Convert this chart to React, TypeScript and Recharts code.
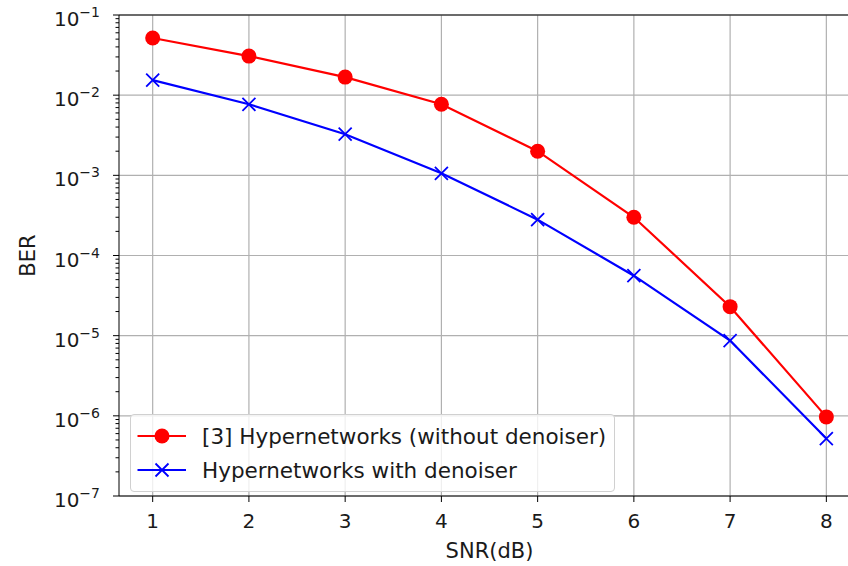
import React from 'react';
import { LineChart, Line, XAxis, YAxis, ReferenceLine, Legend, Label } from 'recharts';

const snr = [1, 2, 3, 4, 5, 6, 7, 8];
const berBaseline = [0.0516, 0.0307, 0.0168, 0.0077, 0.002, 0.0003, 2.3e-5, 9.7e-7];
const berDenoiser = [0.0154, 0.0077, 0.00326, 0.00106, 2.8e-4, 5.6e-5, 8.7e-6, 5.2e-7];

const baselineName = '[3] Hypernetworks (without denoiser)';
const denoiserName = 'Hypernetworks with denoiser';

const decades = [-7, -6, -5, -4, -3, -2, -1];
const majorTicks = decades.map((d) => Math.pow(10, d));
const minorSteps = [2, 3, 4, 5, 6, 7, 8, 9];
const yTicks = [
    ...majorTicks,
    ...decades.slice(0, -1).flatMap((d) => minorSteps.map((m) => m * Math.pow(10, d))),
];

const data = snr.map((s, i) => ({
    snr: s,
    baseline: berBaseline[i],
    denoiser: berDenoiser[i],
}));

const FONT = "'DejaVu Sans', sans-serif";
const TEXT = '#1a1a1a';
const FS = 20;
const GRID = '#b0b0b0';

const isMajor = (v: number) => {
    const l = Math.log10(v);
    return Math.abs(l - Math.round(l)) < 1e-6;
};

const YTick = (props: any) => {
    const { x, y, payload } = props;
    const v = payload.value;
    if (!isMajor(v)) {
        return <line x1={x - 3.5} x2={x} y1={y} y2={y} stroke="#000" strokeWidth={1} />;
    }
    const exp = Math.round(Math.log10(v));
    return (
        <g>
            <line x1={x - 6} x2={x} y1={y} y2={y} stroke="#000" strokeWidth={1} />
            <text x={x - 19} y={y + 11} textAnchor="end" fontFamily={FONT} fill={TEXT}>
                <tspan fontSize={FS}>10</tspan>
                <tspan fontSize={14} dy={-9}>{'\u2212' + Math.abs(exp)}</tspan>
            </text>
        </g>
    );
};

const Cross = (props: any) => {
    const { cx, cy } = props;
    if (cx == null || cy == null) return null;
    const s = 6.5;
    return (
        <path
            d={`M${cx - s},${cy - s}L${cx + s},${cy + s}M${cx - s},${cy + s}L${cx + s},${cy - s}`}
            stroke="#0000ff"
            strokeWidth={1.8}
            fill="none"
        />
    );
};

const LegendBox = (props: any) => {
    const { payload } = props;
    const items = [...(payload || [])].sort((a: any, b: any) => (a.dataKey > b.dataKey ? 1 : -1));
    return (
        <div
            style={{
                background: 'rgba(255,255,255,0.8)',
                border: '1px solid #d0d0d0',
                borderRadius: 4,
                padding: '4px 8px 4px 6px',
                fontFamily: FONT,
                fontSize: 21.5,
                color: TEXT,
                textAlign: 'left',
                whiteSpace: 'nowrap',
            }}
        >
            {items.map((entry: any) => {
                const isBase = entry.dataKey === 'baseline';
                return (
                    <div key={entry.dataKey} style={{ display: 'flex', alignItems: 'center', height: 34 }}>
                        <svg width={65} height={20} style={{ flex: 'none' }}>
                            <line x1={0.5} x2={49} y1={10} y2={10} stroke={entry.color} strokeWidth={2.2} />
                            {isBase ? (
                                <circle cx={25} cy={10} r={7.5} fill="#ff0000" />
                            ) : (
                                <path d="M18.5,3.5L31.5,16.5M18.5,16.5L31.5,3.5" stroke="#0000ff" strokeWidth={1.8} />
                            )}
                        </svg>
                        <span>{entry.value}</span>
                    </div>
                );
            })}
        </div>
    );
};

// the original axes run past the right edge of the picture, so the x domain stops at the crop
const App = () => {
    return (
        <div style={{ position: 'absolute', left: 0, top: 0, width: 848, height: 566, background: '#fff' }}>
            <LineChart
                width={848}
                height={566}
                data={data}
                margin={{ top: 15, right: 0, left: 9, bottom: 8 }}
            >
                {snr.map((s) => (
                    <ReferenceLine key={'x' + s} x={s} stroke={GRID} strokeWidth={1.2} />
                ))}
                {majorTicks.map((t) => (
                    <ReferenceLine key={'y' + t} y={t} stroke={GRID} strokeWidth={1.2} />
                ))}
                <ReferenceLine y={0.1} stroke="#000" strokeWidth={1.2} />
                <XAxis
                    dataKey="snr"
                    type="number"
                    domain={[0.65, 8.225]}
                    ticks={snr}
                    allowDataOverflow
                    height={62}
                    tickSize={6}
                    tickMargin={12}
                    stroke="#000"
                    tick={{ fill: TEXT, fontSize: FS, fontFamily: FONT }}
                >
                    <Label value="SNR(dB)" position="insideBottom" offset={0} dx={6} fill={TEXT} fontSize={21} fontFamily={FONT} />
                </XAxis>
                <YAxis
                    scale="log"
                    domain={[1e-7, 1e-1]}
                    allowDataOverflow
                    ticks={yTicks}
                    interval={0}
                    width={110}
                    tickLine={false}
                    tickSize={0}
                    tickMargin={0}
                    stroke="#000"
                    tick={<YTick />}
                >
                    <Label
                        content={(p: any) => {
                            const vb = p.viewBox || {};
                            const cy = (vb.y || 0) + (vb.height || 0) / 2;
                            return (
                                <text
                                    x={28}
                                    y={cy}
                                    transform={`rotate(-90, 28, ${cy})`}
                                    textAnchor="middle"
                                    dominantBaseline="central"
                                    fontFamily={FONT}
                                    fontSize={21}
                                    fill={TEXT}
                                >
                                    BER
                                </text>
                            );
                        }}
                    />
                </YAxis>
                <Legend
                    layout="vertical"
                    verticalAlign="middle"
                    align="center"
                    content={<LegendBox />}
                    wrapperStyle={{ left: 130, top: 414, width: 'auto' }}
                />
                <Line
                    type="linear"
                    dataKey="baseline"
                    name={baselineName}
                    stroke="#ff0000"
                    strokeWidth={2.2}
                    dot={{ r: 7.5, fill: '#ff0000', stroke: '#ff0000', strokeWidth: 0 }}
                    activeDot={false}
                    isAnimationActive={false}
                />
                <Line
                    type="linear"
                    dataKey="denoiser"
                    name={denoiserName}
                    stroke="#0000ff"
                    strokeWidth={2.2}
                    dot={<Cross />}
                    activeDot={false}
                    isAnimationActive={false}
                />
            </LineChart>
        </div>
    );
};

export default App;
